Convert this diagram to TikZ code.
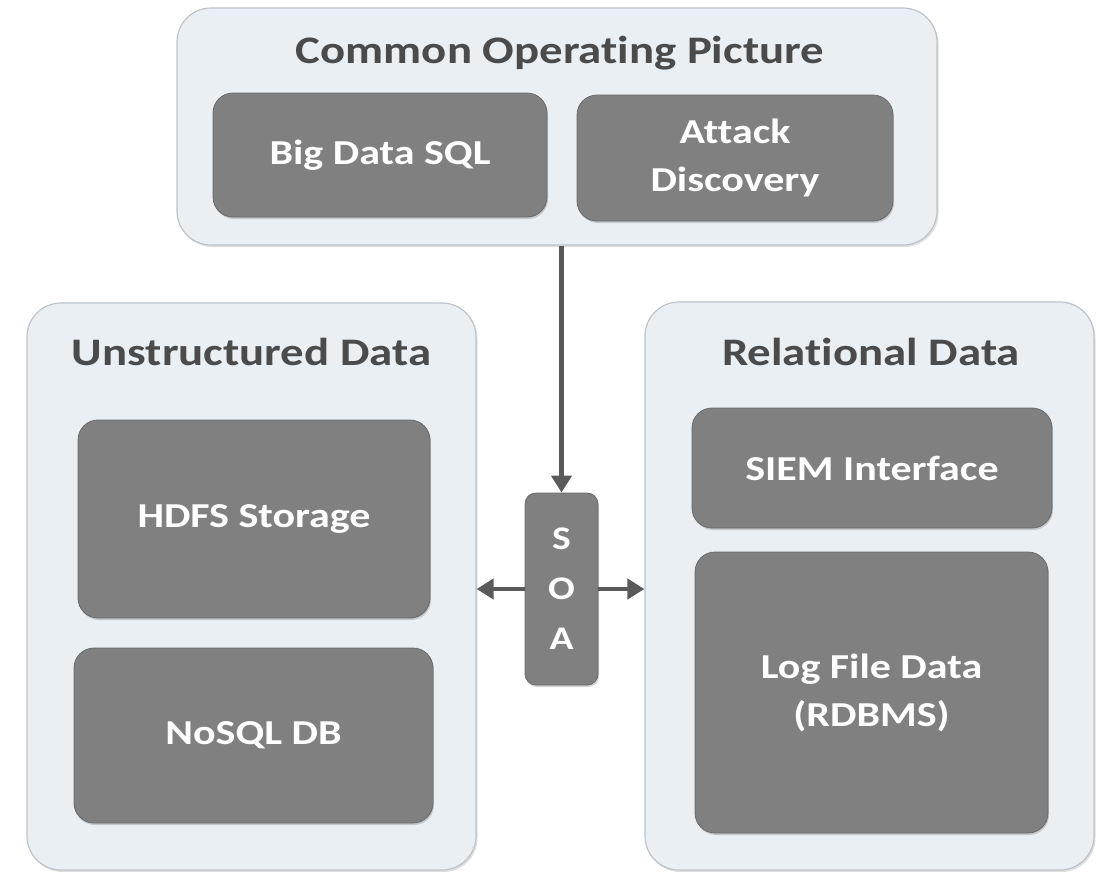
\documentclass[tikz,border=0pt]{standalone}
\usepackage{fontspec}
\setmainfont{Carlito}
\newfontfamily\widefont[FakeStretch=1.2,Ligatures=NoCommon]{Carlito}
\usetikzlibrary{
    arrows.meta,
    positioning,
    shadows
}
\definecolor{panelfill}{HTML}{E9EFF3}
\definecolor{paneldraw}{HTML}{BDC3C8}
\definecolor{boxfill}{HTML}{808080}
\definecolor{boxdraw}{HTML}{6A6A6A}
\definecolor{titletext}{HTML}{4B4B4B}
\definecolor{arrowgray}{HTML}{5A5A5A}
\tikzset{
    % Panels
    panel/.style={draw=paneldraw,fill=panelfill,line width=1.2pt,rounded corners=34pt,
        drop shadow={shadow xshift=1.5pt,shadow yshift=-2pt,opacity=.25}},
    panel title/.style={anchor=base,text=titletext,font=\widefont\fontsize{39}{42}\selectfont\bfseries},
    %
    % Grey boxes
    graybox/.style={draw=boxdraw,fill=boxfill,line width=.8pt,rounded corners=20pt,
        text=white,align=center,font=\widefont\fontsize{35}{48}\selectfont\bfseries,
        drop shadow={shadow xshift=1pt,shadow yshift=-2pt,opacity=.35}},
    soabox/.style={graybox,rounded corners=11pt,font=\widefont\fontsize{33}{50}\selectfont\bfseries},
    %
    % Arrows
    arrow tip/.tip={Triangle[length=17pt,width=20pt]},
    arr/.style={-{arrow tip},draw=arrowgray,line width=4.5pt}
}

\begin{document}
\begin{tikzpicture}[x=1pt,y=-1pt]
    \useasboundingbox (0,0) rectangle (1102,871);

    % top panel
    \node[panel,minimum width=760pt,minimum height=237pt] (cop) at (557,126.5) {};
    \node[panel title] (coptitle) at (560,63) {Common Operating Picture};
    \node[graybox,minimum width=334pt,minimum height=124pt] (bigsql) at (380,155) {Big Data SQL};
    \node[graybox,minimum width=316pt,minimum height=126pt] (attack) at (735,158) {Attack\\Discovery};

    % left panel
    \node[panel,minimum width=449pt,minimum height=567pt] (unstructured) at (251.5,586.5) {};
    \node[panel title] (unstructuredtitle) at (251.5,365) {Unstructured Data};
    \node[graybox,minimum width=352pt,minimum height=198pt] (hdfs) at (254,519) {HDFS Storage};
    \node[graybox,minimum width=359pt,minimum height=175pt] (nosql) at (253.5,735.5) {NoSQL DB};

    % right panel
    \node[panel,minimum width=449pt,minimum height=568pt] (relational) at (869.5,586) {};
    \node[panel title] (relationaltitle) at (871,365) {Relational Data};
    \node[graybox,minimum width=360pt,minimum height=120pt] (siem) at (872,468) {SIEM Interface};
    \node[graybox,minimum width=353pt,minimum height=281pt] (logfile) at (871.5,692.5) {Log File Data\\(RDBMS)};

    % SOA in the middle
    \node[soabox,minimum width=73pt,minimum height=192pt] (soa) at (561.5,589) {S\\O\\A};

    \draw[arr] (soa.north |- cop.south) -- (soa.north);
    \draw[arr] (soa.west) -- (unstructured.east |- soa.west);
    \draw[arr] (soa.east) -- (relational.west |- soa.east);
\end{tikzpicture}
\end{document}
